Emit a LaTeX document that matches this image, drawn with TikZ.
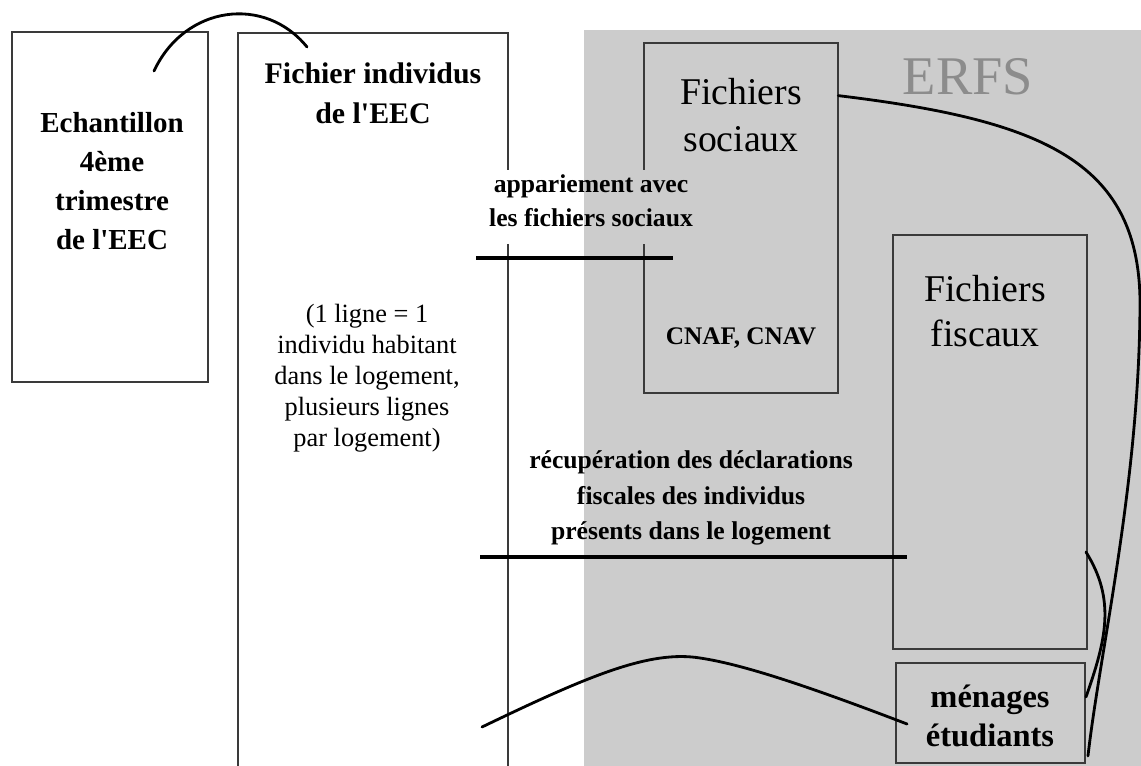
\documentclass[tikz,border=0pt]{standalone}
\usepackage{fontspec}
\setmainfont{Liberation Serif}[Ligatures=TeXOff]
\usetikzlibrary{calc, fit}

\definecolor{erfsgray}{HTML}{CCCCCC}
\definecolor{erfsink}{HTML}{8C8C8C}
\definecolor{boxink}{HTML}{3A3A3A}

\begin{document}
\begin{tikzpicture}[x=0.02cm, y=-0.02cm,
	box/.style={draw=boxink, line width=1.1pt, inner sep=0pt},
	frame/.style={draw=boxink, line width=1.1pt},
	link/.style={line width=1.6pt, line cap=round},
	bar/.style={line width=2.4pt},
	every node/.style={align=center, inner sep=0pt}]
	
	\useasboundingbox (0,0) rectangle (1141,766);
	\fill[erfsgray] (584,30) rectangle (1141,766);
	
	% the boxes
	\node[box, fit={(12,32) (208,382)}] (ech) {};
	\node[fit={(238,33) (508,766)}] (indiv) {};
	\node[fit={(644,43) (838,393)}] (soc) {};
	\node[box, fit={(893,235) (1087,649)}] (fisc) {};
	\node[box, fit={(896,663) (1085,763)}] (men) {};
	
	\coordinate (gaptop) at (0,170);
	\coordinate (gapbot) at (0,244);
	\draw[frame] (indiv.south west) -- (indiv.north west) -- (indiv.north east) -- (indiv.east |- gaptop)
		(indiv.east |- gapbot) -- (indiv.south east);
	\draw[frame] (soc.west |- gaptop) -- (soc.north west) -- (soc.north east) -- (soc.south east) -- (soc.south west) -- (soc.west |- gapbot);
	
	% texts
	\node[font=\fontsize{16.5}{22.3}\selectfont\bfseries] (echtxt) at (112,181) {Echantillon\\4ème\\trimestre\\de l'EEC};
	\node[font=\fontsize{17}{22.7}\selectfont\bfseries] (indivtxt) at (373,93) {Fichier individus\\de l'EEC};
	\node[font=\fontsize{15}{17.6}\selectfont] (lignes) at (367,378) {(1 ligne = 1\\individu habitant\\dans le logement,\\plusieurs lignes\\par logement)};
	\node[font=\fontsize{21.5}{27}\selectfont] (soctxt) at (741,115) {Fichiers\\sociaux};
	\node[font=\fontsize{14.4}{17}\selectfont\bfseries, anchor=base] (cnaf) at (741,345) {CNAF, CNAV};
	\node[font=\fontsize{31}{36}\selectfont, text=erfsink, anchor=base] (erfs) at (968,95) {ERFS};
	\node[font=\fontsize{21.5}{25.5}\selectfont] (fisctxt) at (985,311) {Fichiers\\fiscaux};
	\node[font=\fontsize{18.5}{22}\selectfont\bfseries] (mentxt) at (990,716) {ménages\\étudiants};
	\node[font=\fontsize{14.6}{19.3}\selectfont\bfseries] (appar) at (591,201) {appariement avec\\les fichiers sociaux};
	\node[font=\fontsize{14.6}{20.4}\selectfont\bfseries] (recup) at (691,498) {récupération des déclarations\\fiscales des individus\\présents dans le logement};
	
	% bars under the two steps
	\draw[bar] (476,258) -- (673,258);
	\draw[bar] (480,557) -- (907,557);
	
	% links
	\coordinate (arcA) at (154,71);
	\coordinate (arcB) at (307,47);
	\draw[link] (arcA) .. controls (185,5) and (265,-5) .. (arcB);
	
	\coordinate (bottomA) at (482,727);
	\draw[link] (bottomA) .. controls (590,675) and (650,650) .. (700,658)
		.. controls (740,664) and (800,683) .. ($(men.west)+(12,11)$);
	
	\draw[link] ($(soc.north east)+(0,53)$) .. controls (1040,120) and (1138,160) .. (1140,300)
		.. controls (1140,480) and (1100,650) .. ($(men.south east)+(2,-8)$);
	\draw[link] ($(fisc.east)+(-2,110)$) .. controls (1116,600) and (1106,640) .. ($(men.east)+(0,-16)$);
	
\end{tikzpicture}
\end{document}
